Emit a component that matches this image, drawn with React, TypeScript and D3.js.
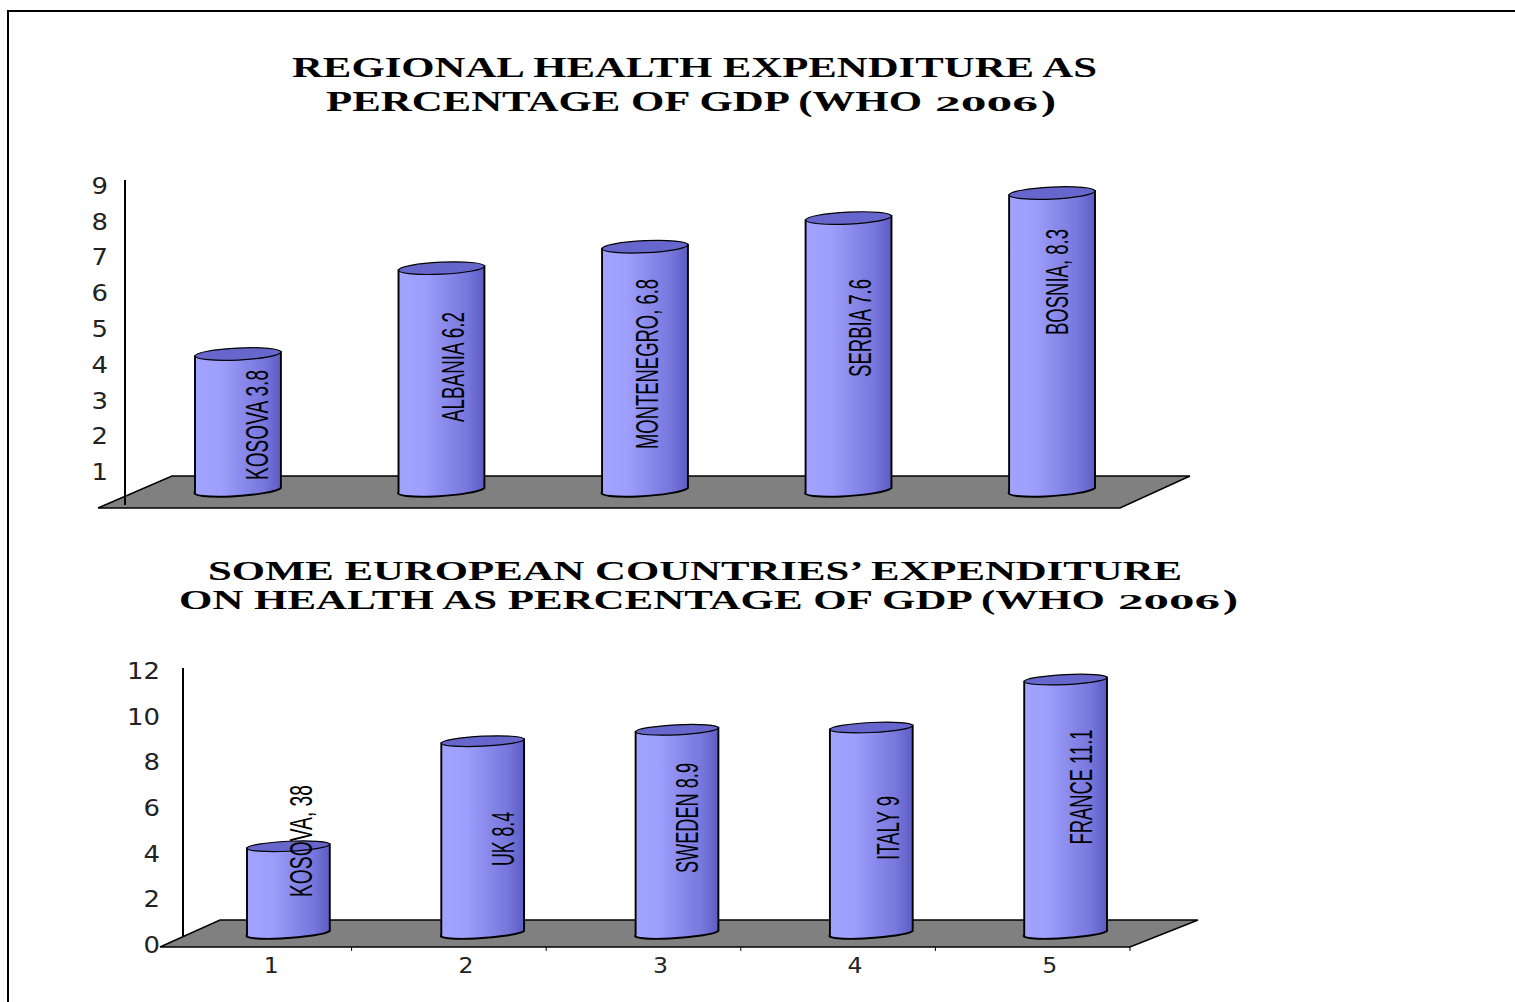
import { useEffect, useRef } from "react";
import * as d3 from "d3";

const regionLabels = ["KOSOVA 3.8", "ALBANIA 6.2", "MONTENEGRO, 6.8", "SERBIA 7.6", "BOSNIA, 8.3"];
const regionValues = [3.8, 6.2, 6.8, 7.6, 8.3];
const regionTicks = [1, 2, 3, 4, 5, 6, 7, 8, 9];

const europeLabels = ["KOSOVA, 38", "UK 8.4", "SWEDEN 8.9", "ITALY 9", "FRANCE 11.1"];
const europeValues = [3.8, 8.4, 8.9, 9, 11.1];
const europeTicks = [0, 2, 4, 6, 8, 10, 12];
const europeCategories = ["1", "2", "3", "4", "5"];

const TOP_PANEL = {
  xRange: [195, 1095],
  padding: 0.578,
  yDomain: [0, 9],
  yRange: [492, 170],
  ry: 6,
  tickShift: 16,
  tickX: 108,
  axisX: 125,
  axisY: [180, 505],
  floor: [[98, 508], [172, 476], [1190, 476], [1120, 508]],
  labelX: [257, 453, 647, 860, 1057],
  labelY: [425, 367, 364, 328, 282],
  labelLen: [110, 110, 170, 98, 106],
};
const BOTTOM_PANEL = {
  xRange: [247, 1107],
  padding: 0.574,
  yDomain: [0, 12],
  yRange: [935, 661],
  ry: 5,
  tickShift: 10,
  tickX: 160,
  axisX: 183,
  axisY: [668, 936],
  floor: [[160, 947], [220, 920], [1198, 920], [1130, 947]],
  labelX: [301, 503, 687, 888, 1081],
  labelY: [841, 839, 818, 828, 787],
  labelLen: [112, 54, 110, 64, 115],
};

type Panel = typeof TOP_PANEL;

const Cylinders = ({ panel, labels, values }: { panel: Panel; labels: string[]; values: number[] }) => {
  const xScale = d3.scaleBand().domain(labels).range(panel.xRange as [number, number]).paddingInner(panel.padding);
  const yScale = d3.scaleLinear().domain(panel.yDomain).range(panel.yRange);
  const rx = xScale.bandwidth() / 2;
  const ry = panel.ry;
  const tilt = -4; // the picture's 3d cylinders lean a little

  return (
    <g>
      {labels.map((label, i) => {
        const x0 = xScale(label) as number;
        const x1 = x0 + rx * 2;
        const top = yScale(values[i]);
        const base = yScale(0);
        const body =
          `M${x0},${top} L${x0},${base} A${rx},${ry} ${tilt} 0 0 ${x1},${base + tilt} ` +
          `L${x1},${top + tilt} Z`;
        return (
          <g key={label}>
            <path d={body} fill="url(#barFill)" stroke="#000" strokeWidth={1.9} />
            <ellipse
              cx={x0 + rx}
              cy={top + tilt / 2}
              rx={rx}
              ry={ry}
              transform={`rotate(${(Math.atan2(tilt, rx * 2) * 180) / Math.PI} ${x0 + rx} ${top + tilt / 2})`}
              fill="#6666cc"
              stroke="#000"
              strokeWidth={1.2}
            />
          </g>
        );
      })}
      {labels.map((label, i) => (
        <text
          key={label}
          transform={`translate(${panel.labelX[i]},${panel.labelY[i]}) rotate(-90)`}
          textAnchor="middle"
          dominantBaseline="central"
          fontFamily="Liberation Sans"
          fontSize={32}
          textLength={panel.labelLen[i]}
          lengthAdjust="spacingAndGlyphs"
          fill="#000"
        >
          {label}
        </text>
      ))}
    </g>
  );
};

const Panel3D = ({ panel, labels, values, ticks }: { panel: Panel; labels: string[]; values: number[]; ticks: number[] }) => {
  const axisRef = useRef<SVGGElement>(null);

  // y tick labels only, the line itself is drawn below
  useEffect(() => {
    const yScale = d3.scaleLinear().domain(panel.yDomain).range(panel.yRange);
    const g = d3.select(axisRef.current);
    g.selectAll("*").remove();
    g.call(d3.axisLeft(yScale).tickValues(ticks).tickSize(0).tickPadding(0) as any);
    g.select(".domain").remove();
    g.selectAll<SVGTextElement, number>("text")
      .attr("font-family", "DejaVu Sans")
      .attr("font-size", 23)
      .attr("fill", "#222")
      .attr("textLength", (d) => String(d).length * 16.5)
      .attr("lengthAdjust", "spacingAndGlyphs");
  }, [panel, ticks]);

  return (
    <g>
      <polygon points={panel.floor.join(" ")} fill="#808080" stroke="#000" strokeWidth={1.4} />
      <line x1={panel.axisX} x2={panel.axisX} y1={panel.axisY[0]} y2={panel.axisY[1]} stroke="#000" strokeWidth={2} />
      <g ref={axisRef} transform={`translate(${panel.tickX},${panel.tickShift})`} />
      <Cylinders panel={panel} labels={labels} values={values} />
    </g>
  );
};

const Title = ({ text, x0, x1, y, size }: { text: string; x0: number; x1: number; y: number; size: number }) => (
  <text
    x={x0}
    y={y}
    fontFamily="Liberation Serif"
    fontWeight="bold"
    fontSize={size}
    textLength={x1 - x0}
    lengthAdjust="spacingAndGlyphs"
    fill="#000"
  >
    {text}
  </text>
);

export default function App() {
  const xAxisRef = useRef<SVGGElement>(null);

  // category axis of the lower chart
  useEffect(() => {
    const xScale = d3.scaleBand().domain(europeCategories).range([157, 1130]);
    const g = d3.select(xAxisRef.current);
    g.selectAll("*").remove();
    g.call(d3.axisBottom(xScale).tickSize(0).tickPadding(11) as any);
    g.select(".domain").remove();
    g.selectAll("text")
      .attr("font-family", "DejaVu Sans")
      .attr("font-size", 21)
      .attr("fill", "#222")
      .attr("textLength", 15)
      .attr("lengthAdjust", "spacingAndGlyphs")
      .attr("dx", 17);
    g.selectAll("line.sep")
      .data(europeCategories)
      .join("line")
      .attr("class", "sep")
      .attr("x1", (d) => (xScale(d) as number) + xScale.bandwidth())
      .attr("x2", (d) => (xScale(d) as number) + xScale.bandwidth())
      .attr("y1", 0)
      .attr("y2", 4)
      .attr("stroke", "#000");
  }, []);

  return (
    <svg width={1515} height={1002} style={{ position: "absolute", left: 0, top: 0, background: "#fff" }}>
      <defs>
        <linearGradient id="barFill" x1="0" x2="1" y1="0" y2="0">
          <stop offset="0" stopColor="#a2a2ff" />
          <stop offset="0.3" stopColor="#9e9efc" />
          <stop offset="0.55" stopColor="#8a8aec" />
          <stop offset="0.8" stopColor="#7777dc" />
          <stop offset="1" stopColor="#5c5cc4" />
        </linearGradient>
      </defs>

      <path d="M1515,11 L8,11 L8,1002" fill="none" stroke="#000" strokeWidth={2} />

      <Title text="REGIONAL HEALTH EXPENDITURE AS" x0={292} x1={1097} y={77} size={30} />
      <Title text="PERCENTAGE OF GDP (WHO" x0={326} x1={922} y={111} size={30} />
      <Title text="2006" x0={935} x1={1038} y={111} size={22} />
      <Title text=")" x0={1041} x1={1056} y={111} size={30} />
      <Title text="SOME EUROPEAN COUNTRIES’ EXPENDITURE" x0={208} x1={1182} y={580} size={28} />
      <Title text="ON HEALTH AS PERCENTAGE OF GDP (WHO" x0={179} x1={1105} y={609} size={28} />
      <Title text="2006" x0={1118} x1={1220} y={609} size={22} />
      <Title text=")" x0={1223} x1={1238} y={609} size={28} />

      <Panel3D panel={TOP_PANEL} labels={regionLabels} values={regionValues} ticks={regionTicks} />
      <Panel3D panel={BOTTOM_PANEL} labels={europeLabels} values={europeValues} ticks={europeTicks} />
      <g ref={xAxisRef} transform="translate(0,947)" />
    </svg>
  );
}
